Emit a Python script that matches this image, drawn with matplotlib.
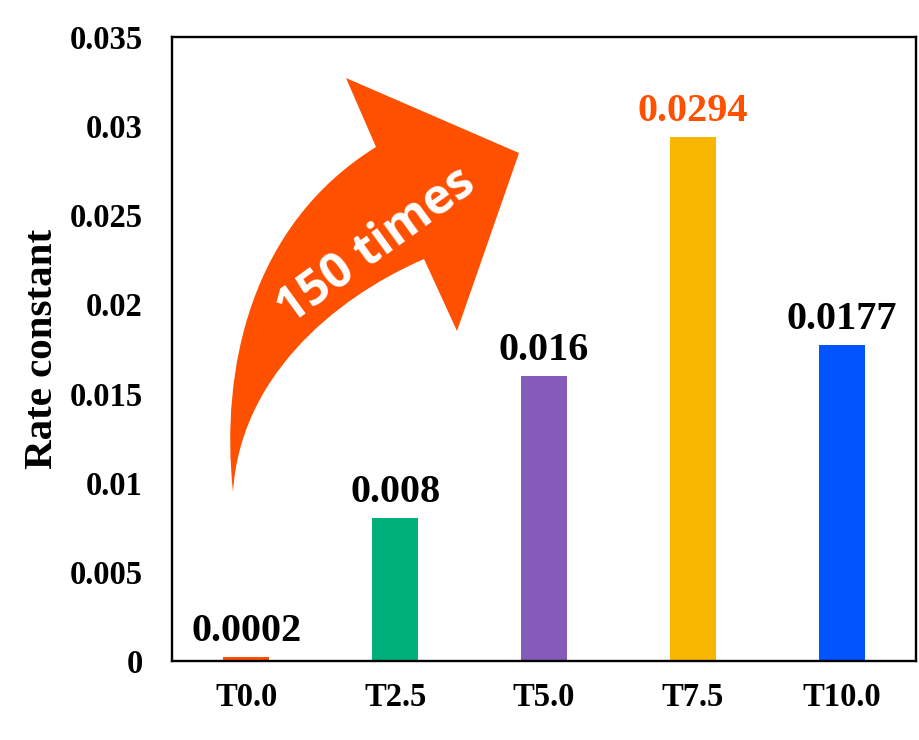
import matplotlib
matplotlib.use("Agg")
import matplotlib.pyplot as plt
from matplotlib.path import Path
from matplotlib.patches import PathPatch

# Data
categories = ["T0.0", "T2.5", "T5.0", "T7.5", "T10.0"]
rate_constants = [0.0002, 0.008, 0.016, 0.0294, 0.0177]
value_labels = ["0.0002", "0.008", "0.016", "0.0294", "0.0177"]
bar_colors = ["#FF5000", "#00B07A", "#845BB8", "#F8B600", "#0055FF"]
label_colors = ["black", "black", "black", "#FF5000", "black"]
y_ticks = [0, 0.005, 0.01, 0.015, 0.02, 0.025, 0.03, 0.035]
y_tick_labels = ["0", "0.005", "0.01", "0.015", "0.02", "0.025", "0.03", "0.035"]

W, H = 919, 740
fig = plt.figure(figsize=(W / 100, H / 100), dpi=100)
ax = fig.add_axes([172 / W, 1 - 661 / H, (916 - 172) / W, (661 - 37) / H])

serif = "Liberation Serif"
x = range(len(categories))
ax.bar(x, rate_constants, width=0.31, color=bar_colors, zorder=2)

ax.set_xlim(-0.5, len(categories) - 0.5)
ax.set_ylim(0, 0.035)
ax.set_xticks(list(x))
ax.set_xticklabels(categories, fontfamily=serif, fontweight="bold", fontsize=23.5)
ax.set_yticks(y_ticks)
ax.set_yticklabels(y_tick_labels, fontfamily=serif, fontweight="bold", fontsize=23.5)
ax.tick_params(axis="both", length=0)
ax.tick_params(axis="y", pad=21)
ax.tick_params(axis="x", pad=15)

for side in ["left", "right", "top", "bottom"]:
    ax.spines[side].set_linewidth(1.7)
    ax.spines[side].set_color("black")

ax.set_ylabel("Rate constant", fontfamily=serif, fontweight="bold", fontsize=29.5,
              labelpad=6)

for i, (v, lab, c) in enumerate(zip(rate_constants, value_labels, label_colors)):
    ax.annotate(lab, (i, v), xytext=(0, 11.5), textcoords="offset points",
                ha="center", va="baseline", fontfamily=serif,
                fontweight="bold", fontsize=29, color=c, zorder=3)

# Curved "150 times" arrow, laid out in figure pixel space
def fp(px, py):
    return (px / W, 1 - py / H)

verts = [
    fp(233, 492),                                   # tail tip
    fp(220, 370), fp(250, 225), fp(376, 147),       # outer curve up to neck
    fp(346, 78),                                    # upper barb
    fp(519, 153),                                   # head tip
    fp(457, 331),                                   # lower barb
    fp(424, 259),                                   # inner neck
    fp(330, 300), fp(240, 380), fp(233, 492),       # inner curve back to tail
    fp(233, 492),
]
codes = [Path.MOVETO,
         Path.CURVE4, Path.CURVE4, Path.CURVE4,
         Path.LINETO, Path.LINETO, Path.LINETO, Path.LINETO,
         Path.CURVE4, Path.CURVE4, Path.CURVE4,
         Path.CLOSEPOLY]
arrow = PathPatch(Path(verts, codes), facecolor="#FF5000", edgecolor="none",
                  transform=fig.transFigure, zorder=4)
fig.patches.append(arrow)

tx, ty = fp(377, 247)
fig.text(tx, ty, "150 times", color="white", fontfamily="Open Sans",
         fontweight="bold", fontsize=35, rotation=36, ha="center",
         va="center", rotation_mode="anchor", zorder=5)

fig.savefig("out.png", dpi=100, facecolor="white")
